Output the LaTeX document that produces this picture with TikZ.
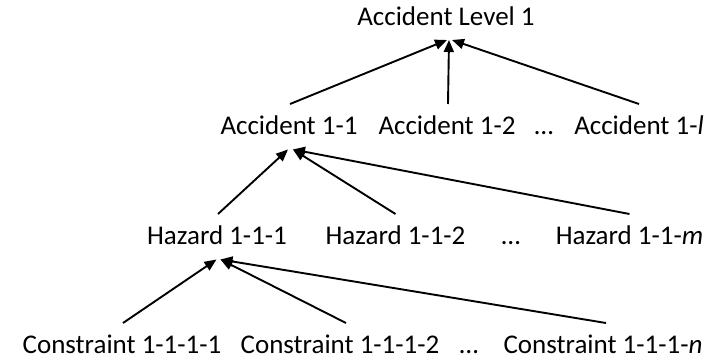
\documentclass[tikz,border=0pt]{standalone}
\usepackage{fontspec}
\setmainfont{Carlito}
\usetikzlibrary{arrows.meta,calc}
\begin{document}
\begin{tikzpicture}[x=1pt,y=-1pt,
  lbl/.style={anchor=base,inner sep=0pt,font=\fontsize{27}{32}\selectfont},
  link/.style={line width=1.9pt,-{Triangle[length=12pt,width=10pt]}},
]
\useasboundingbox (0,0) rectangle (726,359);

% level 1
\node[lbl] (top) at (446,25) {Accident Level 1};

% level 2: accidents
\node[lbl] (a1) at (289,134) {Accident 1-1};
\node[lbl] (a2) at (447,134) {Accident 1-2};
\node[lbl] (adots) at (544,134) {…};
\node[lbl] (al) at (639,134) {Accident 1-\textit{l}};

% level 3: hazards
\node[lbl] (h1) at (217,244) {Hazard 1-1-1};
\node[lbl] (h2) at (395.5,244) {Hazard 1-1-2};
\node[lbl] (hdots) at (511,244) {…};
\node[lbl] (hm) at (629.5,244) {Hazard 1-1-\textit{m}};

% level 4: constraints
\node[lbl] (c1) at (122,353) {Constraint 1-1-1-1};
\node[lbl] (c2) at (340,353) {Constraint 1-1-1-2};
\node[lbl] (cdots) at (469,353) {…};
\node[lbl] (cn) at (603,353) {Constraint 1-1-1-\textit{n}};

% arrival points below the parent labels
\coordinate (top-in) at ($(top.base)+(3,15)$);
\coordinate (a1-in) at ($(a1.base)+(1,15.5)$);
\coordinate (h1-in) at ($(h1.base)+(1,15.5)$);

% accidents -> accident level
\draw[link] ($(a1.base)+(1,-30)$) -- ($(top-in)+(-2,0)$);
\draw[link] ($(a2.base)+(1,-30)$) -- (top-in);
\draw[link] ($(al.base)+(0,-30)$) -- ($(top-in)+(3,0)$);

% hazards -> accident 1-1
\draw[link] ($(h1.base)+(1,-30)$) -- ($(a1-in)+(-2,0)$);
\draw[link] ($(h2.base)+(0,-30)$) -- ($(a1-in)+(3,0)$);
\draw[link] ($(hm.base)+(0,-30)$) -- ($(a1-in)+(3,0)$);

% constraints -> hazard 1-1-1
\draw[link] ($(c1.base)+(1,-30)$) -- ($(h1-in)+(-1.5,0)$);
\draw[link] ($(c2.base)+(6,-30)$) -- ($(h1-in)+(2.5,0)$);
\draw[link] ($(cn.base)+(3,-30)$) -- ($(h1-in)+(2.5,0)$);
\end{tikzpicture}
\end{document}
